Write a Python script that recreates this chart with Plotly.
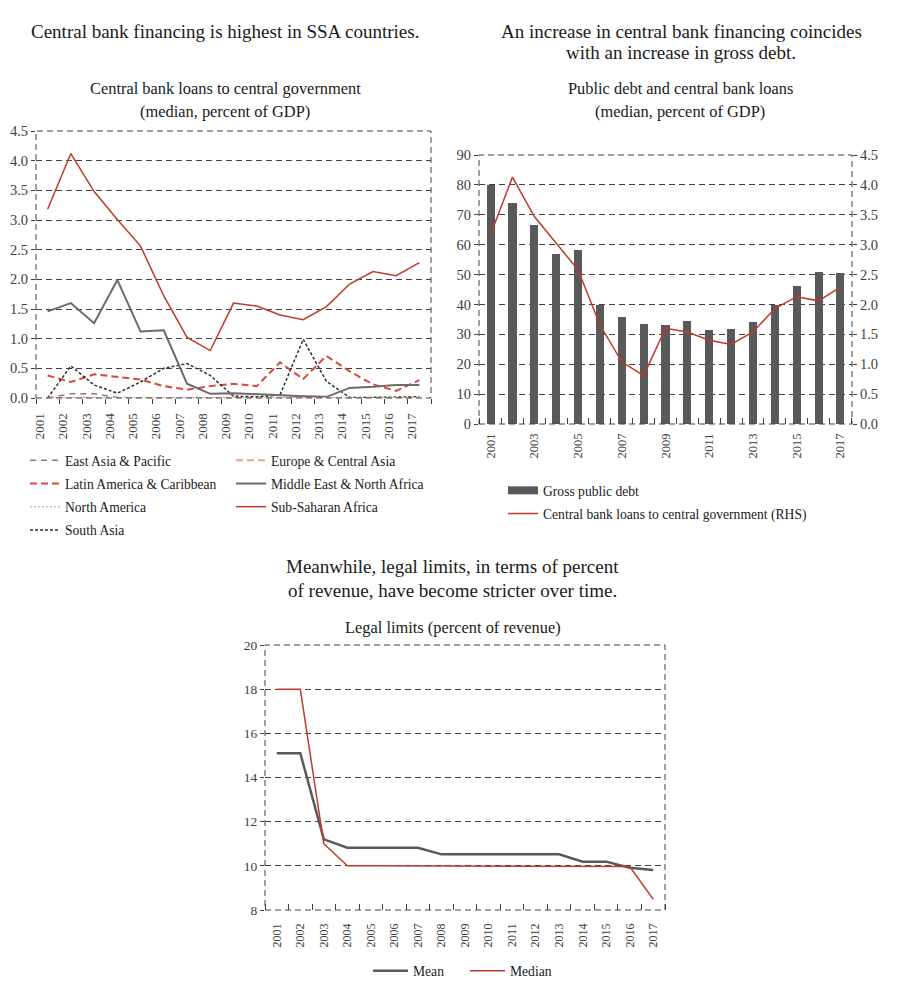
import plotly.graph_objects as go

# ---------------- data ----------------
years = [str(y) for y in range(2001, 2018)]

# Left chart: central bank loans to central government (median, % of GDP)
east_asia_pacific = [0.0, 0.07, 0.07, 0.01, 0.0, 0.0, 0.0, 0.0, 0.0, 0.0, 0.0, 0.0, 0.0, 0.0, 0.0, 0.0, 0.0]
europe_central_asia = [0.0, 0.0, 0.0, 0.0, 0.0, 0.0, 0.0, 0.0, 0.0, 0.0, 0.0, 0.0, 0.0, 0.0, 0.0, 0.0, 0.0]
latin_america_caribbean = [0.38, 0.27, 0.40, 0.36, 0.31, 0.20, 0.14, 0.20, 0.24, 0.20, 0.60, 0.32, 0.71, 0.45, 0.23, 0.12, 0.30]
middle_east_north_africa = [1.46, 1.60, 1.26, 1.99, 1.12, 1.14, 0.24, 0.07, 0.08, 0.06, 0.04, 0.03, 0.02, 0.17, 0.19, 0.22, 0.22]
north_america = [0.0, 0.0, 0.0, 0.0, 0.0, 0.0, 0.0, 0.0, 0.0, 0.0, 0.0, 0.0, 0.0, 0.0, 0.0, 0.0, 0.0]
sub_saharan_africa = [3.18, 4.12, 3.48, 3.01, 2.56, 1.72, 1.02, 0.80, 1.60, 1.55, 1.40, 1.32, 1.54, 1.92, 2.13, 2.06, 2.28]
south_asia = [0.0, 0.54, 0.22, 0.08, 0.27, 0.50, 0.58, 0.38, 0.03, 0.02, 0.05, 0.99, 0.28, 0.01, 0.01, 0.01, 0.02]

# Right chart
gross_public_debt = [80.1, 74.1, 66.5, 57.0, 58.3, 39.7, 35.7, 33.5, 33.2, 34.4, 31.5, 31.9, 34.1, 39.7, 46.1, 50.8, 50.5]
cb_loans_rhs = [3.17, 4.13, 3.47, 3.03, 2.58, 1.66, 1.04, 0.81, 1.60, 1.54, 1.40, 1.33, 1.54, 1.93, 2.13, 2.06, 2.29]

# Bottom chart: legal limits (percent of revenue)
legal_mean = [15.1, 15.1, 11.2, 10.82, 10.82, 10.82, 10.82, 10.52, 10.52, 10.52, 10.52, 10.52, 10.52, 10.19, 10.19, 9.91, 9.81]
legal_median = [18.0, 18.0, 11.0, 10.0, 10.0, 10.0, 10.0, 10.0, 10.0, 10.0, 10.0, 10.0, 10.0, 10.0, 10.0, 9.97, 8.48]

left_ticks = ["0.0", "0.5", "1.0", "1.5", "2.0", "2.5", "3.0", "3.5", "4.0", "4.5"]

# ---------------- helpers ----------------
# page body keeps its default 8px margin, so the figure is 16px smaller than the window
OFF = 8
W, H = 900 - 2 * OFF, 990 - 2 * OFF
FONT = "Liberation Serif"
TXT = "#1a1a1a"
AX = "#404040"
DASH = "6px,4px"
idx = list(range(len(years)))


def px(x):
    return (x - OFF) / W


def py(y):
    return 1 - (y - OFF) / H


fig = go.Figure()

# ---------- left chart ----------
left_series = [
    ("East Asia & Pacific", east_asia_pacific, "#7f7f7f", "6px,5px", 1.5, "legend", 1),
    ("Latin America & Caribbean", latin_america_caribbean, "#d9483b", "7px,4px", 2, "legend", 2),
    ("North America", north_america, "#c4c4c4", "2px,2px", 1.5, "legend", 3),
    ("South Asia", south_asia, "#2e2e2e", "3px,2px", 1.5, "legend", 4),
    ("Middle East & North Africa", middle_east_north_africa, "#6b6b6b", "solid", 2, "legend2", 2),
    ("Sub-Saharan Africa", sub_saharan_africa, "#c0392b", "solid", 1.5, "legend2", 3),
    ("Europe & Central Asia", europe_central_asia, "#eba38e", "7px,4px", 2, "legend2", 1),
]
for name, vals, col, dash, w, lg, rank in left_series:
    fig.add_trace(go.Scatter(
        x=idx, y=vals, name=name, mode="lines",
        line=dict(color=col, dash=dash, width=w),
        xaxis="x", yaxis="y", legend=lg, legendgroup=name, legendrank=rank,
    ))

# ---------- right chart ----------
fig.add_trace(go.Bar(
    x=idx, y=gross_public_debt, name="Gross public debt",
    marker=dict(color="#595959", line=dict(width=0)), width=0.37,
    xaxis="x2", yaxis="y2", showlegend=False,
))
# legend swatch for the bars (wide flat rectangle as in the reference)
fig.add_trace(go.Scatter(
    x=[None], y=[None], name="Gross public debt", mode="lines",
    line=dict(color="#595959", width=8),
    xaxis="x2", yaxis="y2", legend="legend3", legendgroup="gpd", legendrank=1,
))
fig.add_trace(go.Scatter(
    x=idx, y=cb_loans_rhs, name="Central bank loans to central government (RHS)",
    mode="lines", line=dict(color="#c0392b", width=1.5),
    xaxis="x2", yaxis="y3", legend="legend3", legendgroup="cbl", legendrank=2,
))

# ---------- bottom chart ----------
fig.add_trace(go.Scatter(
    x=idx, y=legal_mean, name="Mean", mode="lines",
    line=dict(color="#595959", width=2.5),
    xaxis="x3", yaxis="y4", legend="legend4",
))
fig.add_trace(go.Scatter(
    x=idx, y=legal_median, name="Median", mode="lines",
    line=dict(color="#c0392b", width=1.5),
    xaxis="x3", yaxis="y4", legend="legend4",
))


def tf(s):
    return dict(family=FONT, size=s, color=AX)


def common_y(s):
    return dict(showgrid=True, gridcolor=AX, griddash=DASH, gridwidth=1, zeroline=False,
                showline=False, ticks="outside", ticklen=4, tickcolor=AX, tickfont=tf(s))


boundaries = [i - 0.5 for i in range(len(years) + 1)]
legfont = dict(family=FONT, size=13.6, color=TXT)

layout = dict(
    width=W, height=H, margin=dict(l=0, r=0, t=0, b=0, autoexpand=False),
    paper_bgcolor="white", plot_bgcolor="white",
    font=dict(family=FONT, size=13, color=TXT),
    bargap=0,
    # left
    xaxis=dict(domain=[px(36), px(431)], range=[-0.5, 16.5], anchor="y",
               tickmode="array", tickvals=boundaries, ticktext=years + [""],
               tickangle=-90, ticks="outside", ticklen=5, tickcolor=AX,
               ticklabelshift=4, ticklabelstandoff=4,
               showgrid=False, zeroline=False, showline=False, tickfont=tf(13)),
    yaxis=dict(domain=[py(398), py(131)], range=[0, 4.5], anchor="x",
               tickmode="array", tickvals=[float(t) for t in left_ticks], ticktext=left_ticks,
               **common_y(14.5)),
    # right
    xaxis2=dict(domain=[px(479), px(852)], range=[-0.53, 16.53], anchor="y2",
                tickmode="array", tickvals=idx[::2], ticktext=years[::2],
                tickangle=-90, ticks="", ticklabelstandoff=6,
                minor=dict(tickmode="array", tickvals=boundaries, ticks="inside",
                           ticklen=6, tickcolor=AX, showgrid=False),
                showgrid=False, zeroline=False, showline=False, tickfont=tf(12.5)),
    yaxis2=dict(domain=[py(424), py(155)], range=[0, 90], anchor="x2", dtick=10,
                **common_y(14.5)),
    yaxis3=dict(range=[0, 4.5], anchor="x2", overlaying="y2", side="right",
                tickmode="array", tickvals=[float(t) for t in left_ticks], ticktext=left_ticks,
                showgrid=False, zeroline=False, ticks="outside", ticklen=4, tickcolor=AX,
                tickfont=tf(14.5)),
    # bottom
    xaxis3=dict(domain=[px(265), px(665)], range=[-0.5, 16.5], anchor="y4",
                tickmode="array", tickvals=idx, ticktext=years,
                tickangle=-90, ticks="", ticklabelstandoff=10,
                minor=dict(tickmode="array", tickvals=boundaries, ticks="inside",
                           ticklen=6, tickcolor=AX, showgrid=False),
                showgrid=False, zeroline=False, showline=False, tickfont=tf(12)),
    yaxis4=dict(domain=[py(910), py(645)], range=[8, 20], anchor="x3", dtick=2,
                **common_y(13.5)),
    # legends
    legend=dict(x=px(25), y=py(445), xanchor="left", yanchor="top", orientation="v",
                tracegroupgap=2.5, traceorder="grouped", bgcolor="rgba(0,0,0,0)", font=legfont),
    legend2=dict(x=px(231), y=py(445), xanchor="left", yanchor="top", orientation="v",
                 tracegroupgap=2.5, traceorder="grouped", bgcolor="rgba(0,0,0,0)", font=legfont),
    legend3=dict(x=px(503), y=py(475), xanchor="left", yanchor="top", orientation="v",
                 tracegroupgap=2.5, traceorder="grouped", bgcolor="rgba(0,0,0,0)", font=legfont),
    legend4=dict(x=px(368), y=py(971), xanchor="left", yanchor="middle", orientation="h",
                 traceorder="normal", bgcolor="rgba(0,0,0,0)", itemwidth=35,
                 entrywidth=47, font=legfont),
)
fig.update_layout(**layout)

# dashed plot borders
for xr, yr in [("x", "y"), ("x2", "y2"), ("x3", "y4")]:
    fig.add_shape(type="rect", xref=f"{xr} domain", yref=f"{yr} domain",
                  x0=0, x1=1, y0=0, y1=1, layer="above",
                  line=dict(color=AX, width=1, dash=DASH))

# titles
titles = [
    ("Central bank financing is highest in SSA countries.", 225, 31, 19),
    ("Central bank loans to central government", 225, 89, 16.4),
    ("(median, percent of GDP)", 225, 111, 16.4),
    ("An increase in central bank financing coincides", 681, 31, 19),
    ("with an increase in gross debt.", 681, 53, 19),
    ("Public debt and central bank loans", 680, 89, 16.4),
    ("(median, percent of GDP)", 680, 111, 16.4),
    ("Meanwhile, legal limits, in terms of percent", 452, 566, 19),
    ("of revenue, have become stricter over time.", 452, 590, 19),
    ("Legal limits (percent of revenue)", 453, 627, 16.4),
]
for text, x, y, s in titles:
    fig.add_annotation(text=text, x=px(x), y=py(y), xref="paper", yref="paper",
                       xanchor="center", yanchor="middle", showarrow=False,
                       font=dict(family=FONT, size=s, color=TXT))

fig.write_html("out.html", config={"displayModeBar": False})
